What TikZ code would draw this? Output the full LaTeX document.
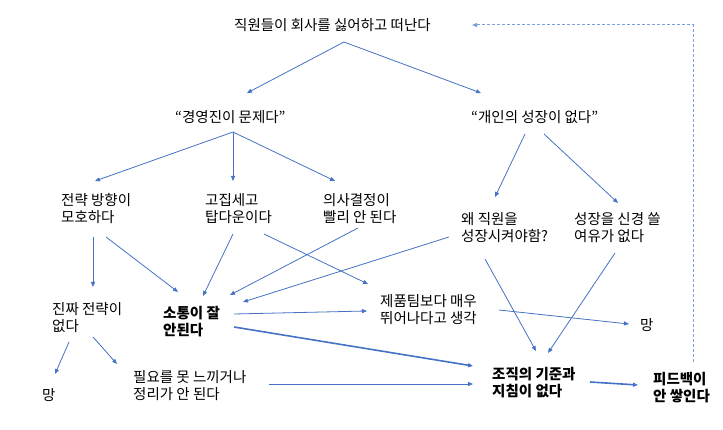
\documentclass[tikz,border=0pt]{standalone}
\usepackage{fontspec}
\setmainfont{Noto Sans CJK KR}
\usetikzlibrary{arrows.meta}
\definecolor{arrowblue}{HTML}{4472C4}
\definecolor{loopblue}{HTML}{7A9DDB}
\begin{document}
\begin{tikzpicture}[x=1pt, y=-1pt,
    txt/.style={anchor=west, inner sep=0pt, align=left, font=\fontsize{14.5}{17}\selectfont},
    key/.style={txt, font=\fontsize{14.5}{17}\selectfont\bfseries},
    arr/.style={arrowblue, line width=0.8pt, -{Triangle[length=5pt,width=4pt]}},
    bold arr/.style={arr, line width=1.6pt},
    loop arr/.style={loopblue, line width=1pt, dashed, dash pattern=on 3pt off 2pt, -{Triangle[length=5pt,width=4pt]}}]
  \useasboundingbox (0,0) rectangle (723,430);
  % nodes
  \node[txt] (quit) at (234,25) {직원들이 회사를 싫어하고 떠난다};
  \node[txt] (mgmt) at (175,117) {“경영진이 문제다”};
  \node[txt] (growth) at (471,117) {“개인의 성장이 없다”};
  \node[txt] (vague) at (61,208.5) {전략 방향이\\모호하다};
  \node[txt] (stubborn) at (205,208.5) {고집세고\\탑다운이다};
  \node[txt] (slow) at (323,208.5) {의사결정이\\빨리 안 된다};
  \node[txt] (why) at (461,227.5) {왜 직원을\\성장시켜야함?};
  \node[txt] (nospare) at (574,227.5) {성장을 신경 쓸\\여유가 없다};
  \node[txt] (nostrat) at (52,317.5) {진짜 전략이\\없다};
  \node[key] (comm) at (163,321.5) {소통이 잘\\안된다};
  \node[txt] (superior) at (380,309.5) {제품팀보다 매우\\뛰어나다고 생각};
  \node[txt] (doomA) at (640,325) {망};
  \node[txt] (doomB) at (42,395) {망};
  \node[txt] (unneeded) at (133,385.5) {필요를 못 느끼거나\\정리가 안 된다};
  \node[key] (nostd) at (492,382.5) {조직의 기준과\\지침이 없다};
  \node[key] (nofb) at (653,388) {피드백이\\안 쌓인다};
  % connectors
  \draw[arr] ([shift={(110,17)}]quit.west) -- ([shift={(72,-24)}]mgmt.west);
  \draw[arr] ([shift={(110,17)}]quit.west) -- ([shift={(10,-24)}]growth.west);
  \draw[arr] ([shift={(58,15)}]mgmt.west) -- ([shift={(34,-27.5)}]vague.west);
  \draw[arr] ([shift={(58,15)}]mgmt.west) -- ([shift={(28,-27.5)}]stubborn.west);
  \draw[arr] ([shift={(58,15)}]mgmt.west) -- ([shift={(12,-27.5)}]slow.west);
  \draw[arr] ([shift={(54,17)}]growth.west) -- ([shift={(34,-30.5)}]why.west);
  \draw[arr] ([shift={(73,17)}]growth.west) -- ([shift={(44,-24.5)}]nospare.west);
  \draw[arr] ([shift={(32,28.5)}]vague.west) -- ([shift={(41,-30.5)}]nostrat.west);
  \draw[arr] ([shift={(45,28.5)}]vague.west) -- ([shift={(15,-29.5)}]comm.west);
  \draw[arr] ([shift={(28,25.5)}]stubborn.west) -- ([shift={(40,-25.5)}]comm.west);
  \draw[arr] ([shift={(35,19.5)}]slow.west) -- ([shift={(67,-26.5)}]comm.west);
  \draw[arr] ([shift={(59,25.5)}]stubborn.west) -- ([shift={(-12,-25.5)}]superior.west);
  \draw[arr] ([shift={(-12,9.5)}]why.west) -- ([shift={(80,-19.5)}]comm.west);
  \draw[arr] ([shift={(71,-7.5)}]comm.west) -- ([shift={(-13,1.5)}]superior.west);
  \draw[bold arr] ([shift={(71,5.5)}]comm.west) -- ([shift={(-19,-16.5)}]nostd.west);
  \draw[arr] ([shift={(17,24.5)}]nostrat.west) -- ([shift={(13,-21)}]doomB.west);
  \draw[arr] ([shift={(41,19.5)}]nostrat.west) -- ([shift={(-16,-21.5)}]unneeded.west);
  \draw[arr] ([shift={(136,-1.5)}]unneeded.west) -- ([shift={(-19,1.5)}]nostd.west);
  \draw[arr] ([shift={(24,31.5)}]why.west) -- ([shift={(44,-31.5)}]nostd.west);
  \draw[arr] ([shift={(41,25.5)}]nospare.west) -- ([shift={(56,-29.5)}]nostd.west);
  \draw[arr] ([shift={(119,0.5)}]superior.west) -- ([shift={(-11,-1)}]doomA.west);
  \draw[bold arr] ([shift={(98,-0.5)}]nostd.west) -- ([shift={(-15,-3)}]nofb.west);
  % feedback loop back to the top
  \draw[loop arr] ([shift={(40,-26)}]nofb.west) |- ([shift={(238,0)}]quit.west);
\end{tikzpicture}
\end{document}
